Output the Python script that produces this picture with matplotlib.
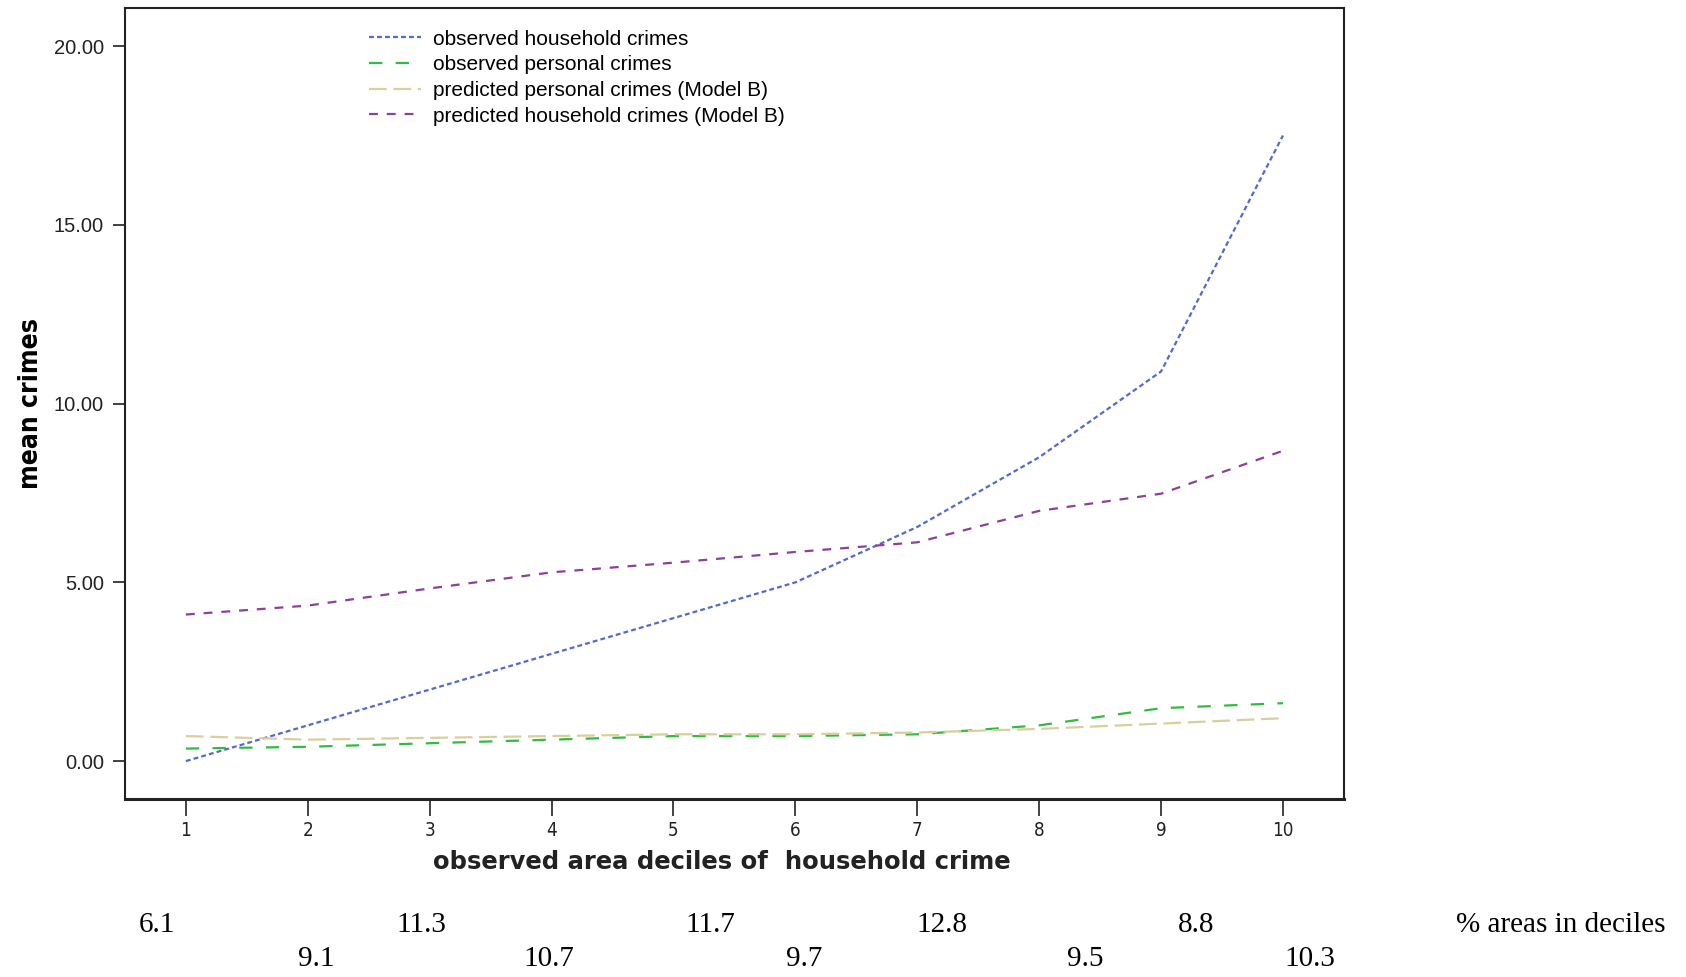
import matplotlib
matplotlib.use("Agg")
import matplotlib.pyplot as plt
import matplotlib.transforms as mtransforms

# deciles of observed household crime
deciles = [1, 2, 3, 4, 5, 6, 7, 8, 9, 10]

# mean crimes per decile
obs_household = [0.0, 1.0, 2.0, 3.0, 4.0, 5.0, 6.55, 8.5, 10.9, 17.5]
obs_personal = [0.35, 0.4, 0.5, 0.6, 0.7, 0.7, 0.75, 1.0, 1.48, 1.62]
pred_personal = [0.7, 0.6, 0.65, 0.7, 0.75, 0.75, 0.8, 0.9, 1.05, 1.2]
pred_household = [4.1, 4.35, 4.83, 5.28, 5.55, 5.85, 6.12, 7.0, 7.48, 8.68]

# % of areas in each decile (alternating rows under the chart)
pct_areas = ["6.1", "9.1", "11.3", "10.7", "11.7", "9.7", "12.8", "9.5", "8.8", "10.3"]
pct_x = [0.76, 2.07, 2.93, 3.98, 5.30, 6.07, 7.20, 8.38, 9.29, 10.22]

yticks = [0.0, 5.0, 10.0, 15.0, 20.0]

fig = plt.figure(figsize=(16.86, 9.77), dpi=100)
ax = fig.add_axes([0.0741, 0.1822, 0.7230, 0.8101])

#lines
ax.plot(deciles, obs_household, color="#5468d2", lw=1.6, ls=(0, (2.2, 1.4)),
		label="observed household crimes")
ax.plot(deciles, obs_personal, color="#2ebd3e", lw=1.6, ls=(0, (6, 6)),
		label="observed personal crimes")
ax.plot(deciles, pred_personal, color="#d8cf9c", lw=1.6, ls=(0, (8, 3)),
		label="predicted personal crimes (Model B)")
ax.plot(deciles, pred_household, color="#8e3e9c", lw=1.6, ls=(0, (4, 4)),
		label="predicted household crimes (Model B)")

ax.set_xlim(0.5, 10.5)
ax.set_ylim(-1.06, 21.08)
ax.set_xticks(deciles)
ax.set_xticklabels([str(d) for d in deciles], fontsize=13.5, family="DejaVu Sans",
		stretch="condensed")
ax.set_yticks(yticks)
ax.set_yticklabels(["%.2f" % v for v in yticks], fontsize=14.5, family="Liberation Sans")
ax.tick_params(axis="both", direction="out", length=9, width=1.2, colors="#222222", pad=6)
ax.tick_params(axis="x", length=12, pad=4)
for s in ax.spines.values():
	s.set_linewidth(1.5)
	s.set_color("#222222")
ax.spines["bottom"].set_linewidth(2.2)

ax.set_ylabel("mean crimes", fontsize=19, fontweight="bold",
		family="DejaVu Sans", stretch="condensed")
ax.yaxis.set_label_coords(-0.066, 0.5)
ax.set_xlabel("observed area deciles of  household crime", fontsize=17.5,
		fontweight="bold", family="DejaVu Sans", color="#222222")
ax.xaxis.set_label_coords(0.49, -0.064)

leg = ax.legend(loc="upper left", bbox_to_anchor=(0.2, 0.972), frameon=False,
		handlelength=2.5, handletextpad=0.6, labelspacing=0.32,
		borderpad=0, borderaxespad=0, prop={"family": "Liberation Sans", "size": 15})

#percentage of areas under the axis
trans = mtransforms.blended_transform_factory(ax.transData, fig.transFigure)
for i, (label, x) in enumerate(zip(pct_areas, pct_x)):
	y = 0.053 if i % 2 == 0 else 0.018
	ax.text(x, y, label, transform=trans, ha="center", va="center",
			fontsize=21, family="Liberation Serif", clip_on=False)
fig.text(0.926, 0.053, "% areas in deciles", ha="center", va="center",
		fontsize=21, family="Liberation Serif")

fig.savefig("out.png", dpi=100)
